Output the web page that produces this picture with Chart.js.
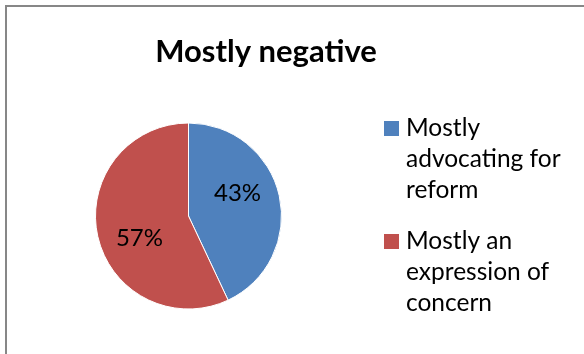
<!DOCTYPE html>
<html>
<head>
<meta charset="utf-8">
<script src="https://cdn.jsdelivr.net/npm/chart.js@4/dist/chart.umd.min.js"></script>
<style>
  html, body { margin: 0; padding: 0; background: #ffffff; }
  #wrap { width: 584px; height: 354px; position: relative; }
</style>
</head>
<body>
<div id="wrap"><canvas id="c" width="584" height="354"></canvas></div>
<script>
// Chart content
const chartTitle = 'Mostly negative';
const categories = ['Mostly advocating for reform', 'Mostly an expression of concern'];
const legendLines = [['Mostly', 'advocating for', 'reform'], ['Mostly an', 'expression of', 'concern']];
const shares = [43, 57];
const sliceColors = ['#4F81BD', '#C0504D'];

const FONT = 'Lato, "Open Sans", "DejaVu Sans", sans-serif';

// Frame, title, legend and percentage labels drawn on top of the pie
const decorations = {
  id: 'decorations',
  afterDatasetsDraw(chart) {
    const ctx = chart.ctx;
    ctx.save();

    // percentage labels, placed along each slice
    const meta = chart.getDatasetMeta(0);
    const total = shares.reduce((a, b) => a + b, 0);
    ctx.fillStyle = '#000';
    ctx.font = '24px ' + FONT;
    ctx.textAlign = 'center';
    ctx.textBaseline = 'middle';
    meta.data.forEach((arc, i) => {
      const p = arc.getProps(['x', 'y', 'startAngle', 'endAngle', 'outerRadius'], true);
      const mid = (p.startAngle + p.endAngle) / 2 - 0.21;
      const rr = p.outerRadius * 0.58;
      const pct = Math.round(shares[i] / total * 100) + '%';
      ctx.fillText(pct, p.x + Math.cos(mid) * rr, p.y + Math.sin(mid) * rr);
    });

    ctx.restore();
  },
  afterDraw(chart) {
    const ctx = chart.ctx;
    ctx.save();

    // chart frame
    ctx.strokeStyle = '#878787';
    ctx.lineWidth = 2;
    ctx.strokeRect(6, 6, 700, 500);

    // title
    ctx.fillStyle = '#000';
    ctx.font = 'bold 31px ' + FONT;
    ctx.textAlign = 'center';
    ctx.textBaseline = 'middle';
    ctx.fillText(chartTitle, 266, 52);

    // legend
    ctx.font = '24.5px ' + FONT;
    ctx.textAlign = 'left';
    ctx.textBaseline = 'middle';
    const legendX = 384, textX = 406, startY = 128, lineH = 31, blockGap = 113;
    legendLines.forEach((lines, i) => {
      const y0 = startY + i * blockGap;
      ctx.fillStyle = sliceColors[i];
      ctx.fillRect(legendX, y0 - 7, 15, 15);
      ctx.fillStyle = '#000';
      lines.forEach((t, j) => ctx.fillText(t, textX, y0 + j * lineH));
    });

    ctx.restore();
  }
};

new Chart(document.getElementById('c'), {
  type: 'pie',
  data: {
    labels: categories,
    datasets: [{
      data: shares,
      backgroundColor: sliceColors,
      borderColor: '#ffffff',
      borderWidth: 1
    }]
  },
  options: {
    responsive: false,
    animation: false,
    layout: { padding: { left: 95, right: 302, top: 122, bottom: 44 } },
    plugins: {
      legend: { display: false },
      title: { display: false },
      tooltip: { enabled: false }
    }
  },
  plugins: [decorations]
});
</script>
</body>
</html>
